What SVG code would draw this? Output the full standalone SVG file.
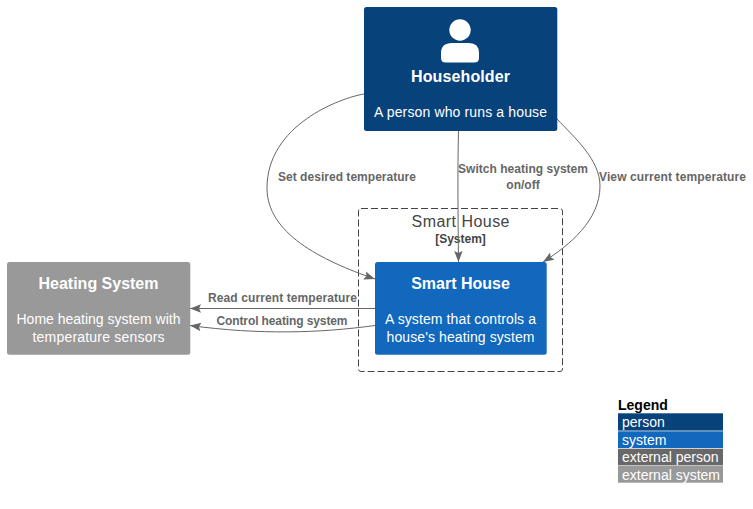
<svg xmlns="http://www.w3.org/2000/svg" width="753" height="509" viewBox="0 0 753 509">
<style>
text{font-family:"Liberation Sans",Arial,sans-serif;text-anchor:middle}
.t{font-size:16px;font-weight:bold;fill:#fff}
.d{font-size:14px;fill:#fff}
.e{font-size:12px;font-weight:bold;fill:#666}
.l{font-size:14px;fill:#fff;text-anchor:start}
.c{fill:none;stroke:#666;stroke-width:1}
</style>
<defs><marker id="a" markerUnits="userSpaceOnUse" markerWidth="13" markerHeight="11" refX="11" refY="4.500" orient="auto"><path d="M0,0.300L11,4.500L0,8.700L2,4.500Z" fill="#666"/></marker></defs>
<rect width="753" height="509" fill="#fff"/>
<g id="boundary">
<rect x="358.500" y="208.500" width="204" height="163" rx="2.500" fill="none" stroke="#444" stroke-dasharray="7,3"/>
<text x="460.500" y="227" font-size="16" fill="#444" textLength="98">Smart House</text>
<text x="460.500" y="243" font-size="12" font-weight="bold" fill="#444">[System]</text>
</g>
<g id="connectors">
<path class="c" marker-end="url(#a)" d="M364,94C340,98 267,125 267,188C267,233 320,260 375,279"/>
<path class="c" marker-end="url(#a)" d="M458.500,131C457.500,170 458,215 458.500,262"/>
<path class="c" marker-end="url(#a)" d="M557,119C575,138 600,160 600,186C600,220 570,245 543,262"/>
<path class="c" marker-end="url(#a)" d="M375,308.500L190,308.500"/>
<path class="c" marker-end="url(#a)" d="M375,325.500C320,333 260,335 190,325.500"/>
<g>
<text x="347" y="181" class="e" textLength="138">Set desired temperature</text>
<text x="523" y="173" class="e" textLength="130">Switch heating system</text>
<text x="523" y="189" class="e">on/off</text>
<text x="672.500" y="181" class="e" textLength="147">View current temperature</text>
<text x="282.500" y="302" class="e" textLength="149">Read current temperature</text>
<text x="282" y="325" class="e" textLength="131">Control heating system</text>
</g>
</g>
<g id="householder">
<rect x="364" y="7" width="193.300" height="124" rx="2.500" fill="#08427b"/>
<circle cx="460" cy="30" r="10.700" fill="#fff"/>
<path d="M452,43H469Q479,43 479,53V58Q479,62.500 474,62.500H446Q441,62.500 441,58V53Q441,43 452,43Z" fill="#fff"/>
<text x="460.500" y="82" class="t" textLength="99">Householder</text>
<text x="460.500" y="117" class="d" textLength="173">A person who runs a house</text>
</g>
<g id="smart-house">
<rect x="375" y="262" width="171.700" height="92.700" rx="2.500" fill="#1168bd"/>
<text x="460.500" y="289" class="t">Smart House</text>
<text x="460.500" y="324" class="d" textLength="151">A system that controls a</text>
<text x="460.500" y="342" class="d" textLength="148">house's heating system</text>
</g>
<g id="heating-system">
<rect x="7" y="262" width="183.300" height="92.700" rx="2.500" fill="#999"/>
<text x="98.500" y="289" class="t" textLength="120">Heating System</text>
<text x="98.500" y="324" class="d" textLength="164">Home heating system with</text>
<text x="98.500" y="342" class="d" textLength="132">temperature sensors</text>
</g>
<g id="legend">
<text x="618" y="410" font-size="14" font-weight="bold" fill="#000" style="text-anchor:start">Legend</text>
<rect x="618" y="413.300" width="105" height="17.300" fill="#08427b"/><text x="622" y="427" class="l">person</text>
<rect x="618" y="431.300" width="105" height="16.700" fill="#1168bd"/><text x="622" y="445" class="l">system</text>
<rect x="618" y="448.700" width="105" height="16.700" fill="#686868"/><text x="622" y="462" class="l">external person</text>
<rect x="618" y="466" width="105" height="16.700" fill="#999"/><text x="622" y="480" class="l">external system</text>
</g>
</svg>
